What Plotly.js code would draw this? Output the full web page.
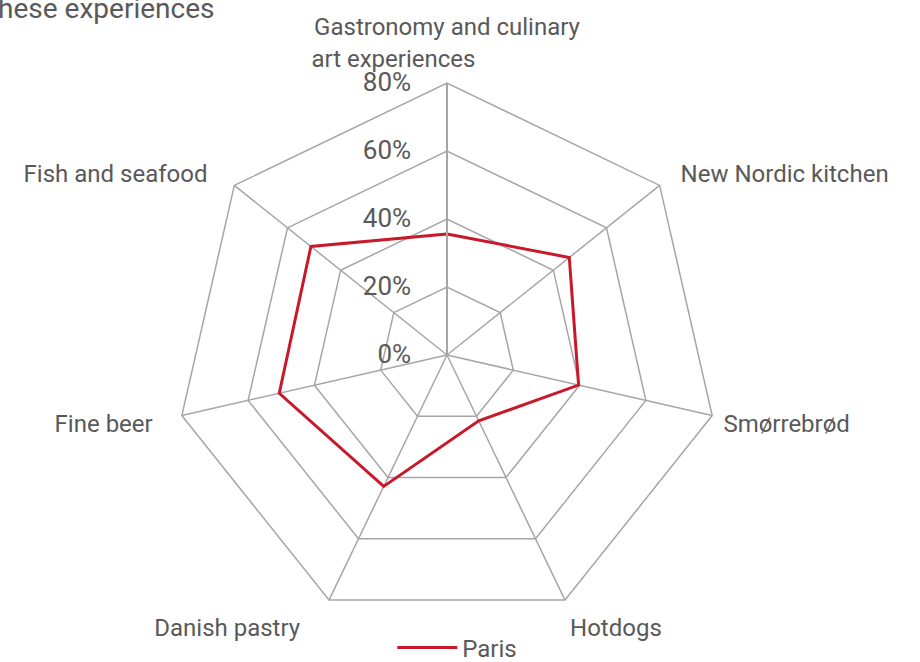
<!DOCTYPE html>
<html>
<head>
<meta charset="utf-8">
<script src="https://cdn.plot.ly/plotly-3.0.1.min.js"></script>
<style>html,body{margin:0;padding:0;background:#fff;}#chart{width:920px;height:662px;}</style>
</head>
<body>
<div id="chart"></div>
<script>
const NB = "\u00a0";
const categories = [
  "Gastronomy and culinary<br>art experiences" + NB.repeat(18),
  NB.repeat(2) + "New Nordic kitchen",
  "Smørrebrød",
  "Hotdogs",
  "Danish pastry" + NB.repeat(4),
  "Fine beer" + NB.repeat(3),
  "Fish and seafood" + NB.repeat(3)
];
const parisValues = [35.6, 46, 39.7, 21.5, 42.9, 50.6, 51.2];
const seriesName = "Paris";
const radialTicks = [0, 20, 40, 60, 80];
const titleText = "Interest in these experiences";

const textColor = "#595959";
const gridColor = "#a6a6a6";
const fontFam = "Roboto, 'Open Sans', sans-serif";

const trace = {
  type: "scatterpolar",
  mode: "lines",
  r: parisValues.concat([parisValues[0]]),
  theta: categories.concat([categories[0]]),
  name: seriesName,
  line: {color: "#c8192b", width: 3},
  hoverinfo: "skip"
};

const layout = {
  width: 920, height: 662,
  margin: {l: 0, r: 0, t: 0, b: 0, autoexpand: false},
  paper_bgcolor: "#fff",
  font: {family: fontFam, color: textColor, size: 24},
  showlegend: true,
  legend: {
    orientation: "h", x: 0.497, xanchor: "center",
    yref: "container", y: 14/662, yanchor: "middle",
    itemwidth: 60,
    font: {size: 24, color: textColor}
  },
  polar: {
    domain: {x: [175/920, 719/920], y: [1 - 627/662, 1 - 83/662]},
    gridshape: "linear",
    bgcolor: "rgba(0,0,0,0)",
    radialaxis: {
      range: [0, 80],
      tickvals: radialTicks,
      ticktext: radialTicks.map(v => v + "%" + NB.repeat(4)),
      angle: 90,
      tickangle: 90,
      side: "counterclockwise",
      showline: true,
      linecolor: gridColor,
      linewidth: 2,
      gridcolor: gridColor,
      gridwidth: 1.5,
      ticks: "",
      tickfont: {size: 26, color: textColor}
    },
    angularaxis: {
      direction: "clockwise",
      rotation: 90,
      showline: true,
      linecolor: gridColor,
      linewidth: 1.5,
      gridcolor: gridColor,
      gridwidth: 1.5,
      ticks: "outside",
      ticklen: 6,
      tickcolor: "rgba(0,0,0,0)",
      tickfont: {size: 24, color: textColor}
    }
  },
  annotations: [{
    text: titleText,
    xref: "paper", yref: "paper",
    x: 216/920, xanchor: "right",
    y: 1 + 10/662, yanchor: "top",
    showarrow: false,
    font: {size: 28, color: textColor}
  }]
};

Plotly.newPlot("chart", [trace], layout, {displayModeBar: false, staticPlot: true});
</script>
</body>
</html>
